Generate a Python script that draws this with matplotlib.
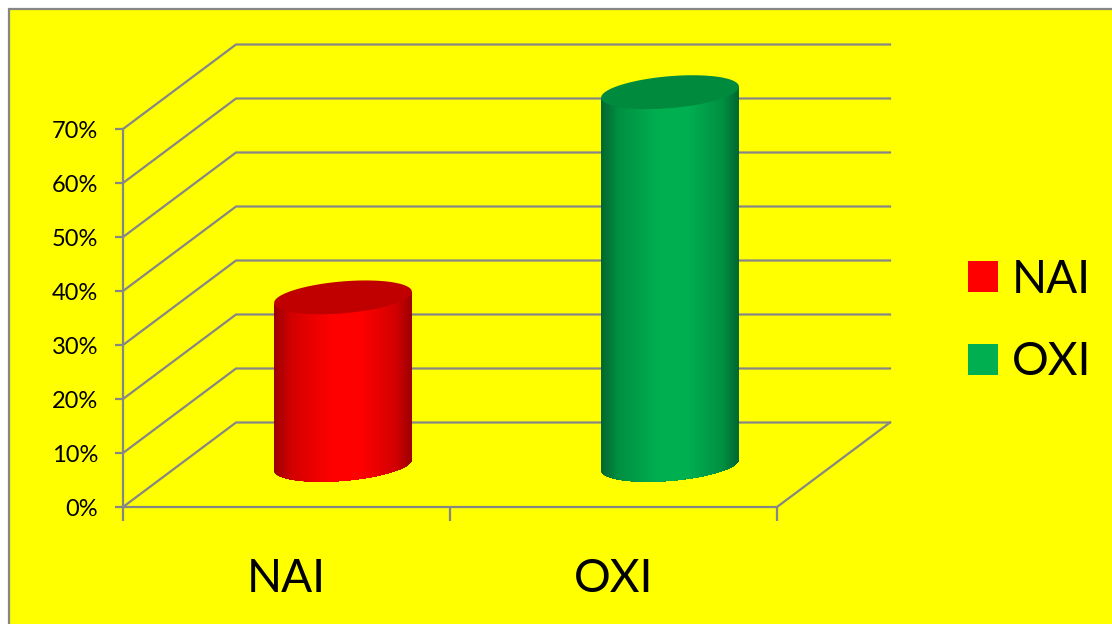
import numpy as np
import matplotlib
matplotlib.use('Agg')
import matplotlib.pyplot as plt
from matplotlib.collections import PolyCollection
from matplotlib.colors import to_rgb
from matplotlib.patches import Rectangle

categories = ['NAI', 'OXI']
values = [31, 69]
side_colors = ['#ff0000', '#00b050']
shade_colors = ['#9c0000', '#00672f']
top_colors = ['#c00000', '#008a3e']
y_ticks = [0, 10, 20, 30, 40, 50, 60, 70]

grey = '#868686'
W, H = 1112, 624

# depth of the fake 3d box, in data units
depth_x = 113 / 327
depth_y = 84.5 / 5.4
radius_u = 0.199
radius_v = 0.2

plt.rcParams['font.family'] = ['Lato', 'DejaVu Sans']

fig = plt.figure(figsize=(W / 100, H / 100), dpi=100, facecolor='white')
fig.patches.append(Rectangle((9 / W, -0.01), 1.02, (H - 9) / H + 0.01, transform=fig.transFigure,
                             facecolor='#ffff00', edgecolor=grey, linewidth=1.6, figure=fig, zorder=-5))

ax = fig.add_axes([123 / W, (H - 507) / H, 654 / W, 378 / H])
ax.set_xlim(0, 2)
ax.set_ylim(0, 70)
ax.patch.set_alpha(0)

# walls and floor
for v in y_ticks:
    ax.plot([0, depth_x, 2 + depth_x], [v, v + depth_y, v + depth_y], color=grey, lw=1.6,
            clip_on=False, zorder=1, solid_joinstyle='miter')
ax.plot([2, 2 + depth_x], [0, depth_y], color=grey, lw=1.6, clip_on=False, zorder=1)

for s in ['top', 'right']:
    ax.spines[s].set_visible(False)
for s in ['left', 'bottom']:
    ax.spines[s].set_color(grey)
    ax.spines[s].set_linewidth(1.6)

ax.set_yticks(y_ticks)
ax.set_yticklabels(['%d%%' % v for v in y_ticks], fontsize=17)
ax.tick_params(axis='y', length=6, width=1.6, color=grey, pad=12)
ax.set_xticks([0, 1, 2])
ax.set_xticklabels([])
ax.tick_params(axis='x', length=10, width=1.6, color=grey)
ax.set_xticks([0.5, 1.5], minor=True)
ax.set_xticklabels(categories, minor=True, fontsize=33)
ax.tick_params(axis='x', which='minor', length=0, pad=37)


def ellipse(center, level, t):
    x = center + radius_u * np.cos(t) + radius_v * depth_x * np.sin(t)
    y = level + radius_v * depth_y * np.sin(t)
    return x, y


# cylinders, each strip runs to the right edge and the next one paints over it, so no seams
t_right = np.arctan2(radius_v * depth_x, radius_u)
t_side = np.linspace(t_right - np.pi, t_right, 140)
for i in range(len(values)):
    center = i + 0.5 + 0.5 * depth_x
    base = 0.5 * depth_y
    top = base + values[i]
    xb, yb = ellipse(center, base, t_side)
    xt, yt = ellipse(center, top, t_side)
    frac = (xb - xb.min()) / (xb.max() - xb.min())
    light = np.interp(frac, [0, 0.12, 0.42, 0.62, 0.88, 1], [0, 0.55, 1, 1, 0.55, 0])
    c0 = np.array(to_rgb(shade_colors[i]))
    c1 = np.array(to_rgb(side_colors[i]))
    polys = []
    cols = []
    for k in range(len(t_side) - 1):
        polys.append(np.column_stack([np.r_[xb[k:], xt[k:][::-1]], np.r_[yb[k:], yt[k:][::-1]]]))
        cols.append(c0 + (c1 - c0) * light[k])
    pc = PolyCollection(polys, facecolors=cols, edgecolors='none', clip_on=False, zorder=3)
    ax.add_collection(pc)
    tt = np.linspace(0, 2 * np.pi, 200)
    xe, ye = ellipse(center, top, tt)
    ax.fill(xe, ye, color=top_colors[i], lw=0, clip_on=False, zorder=4)

handles = [Rectangle((0, 0), 1, 1, facecolor=c) for c in side_colors]
fig.legend(handles, categories, loc='center left', bbox_to_anchor=(968 / W, (H - 321) / H), frameon=False,
           fontsize=33, handlelength=0.66, handleheight=0.66, handletextpad=0.3, labelspacing=0.89,
           borderpad=0, borderaxespad=0)

fig.savefig('out.png', dpi=100, facecolor=fig.get_facecolor())
